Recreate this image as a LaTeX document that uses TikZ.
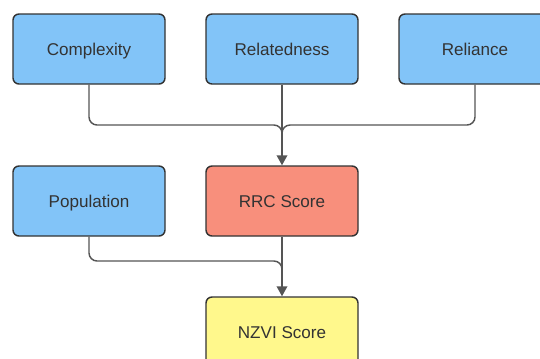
\documentclass[tikz,border=0pt]{standalone}
\usepackage{fontspec}
\setmainfont{Liberation Sans}
\usetikzlibrary{arrows.meta}
\definecolor{bluebox}{HTML}{82C4F8}
\definecolor{redbox}{HTML}{F88F7C}
\definecolor{yellowbox}{HTML}{FFF88C}
\definecolor{edge}{HTML}{333333}
\definecolor{wire}{HTML}{555555}
\definecolor{txt}{HTML}{333333}
\begin{document}
\begin{tikzpicture}[x=0.75pt,y=-0.75pt,
  box/.style={draw=edge,line width=1.1pt,rounded corners=4.5pt,minimum width=152*0.75pt,minimum height=70*0.75pt,inner sep=0pt,text height=9.1pt,text depth=0pt,text=txt,font=\fontsize{12.8pt}{14pt}\selectfont},
  wireline/.style={draw=wire,line width=1.1pt,rounded corners=6pt},
  arr/.style={wireline,-{Triangle[length=7.5pt,width=8pt]}}]
\useasboundingbox (0,0) rectangle (540,358);
\node[box,fill=bluebox] (cx) at (89,49) {Complexity};
\node[box,fill=bluebox] (rel) at (282,49) {Relatedness};
\node[box,fill=bluebox] (rl) at (475,49) {Reliance};
\node[box,fill=bluebox] (pop) at (89,201) {Population};
\node[box,fill=redbox] (rrc) at (282,201) {RRC Score};
\node[box,fill=yellowbox] (nz) at (282,332) {NZVI Score};
\coordinate (j1) at (282,125);
\coordinate (j2) at (282,261);
\draw[wireline] (cx.south) |- (j1) -- ++(0,6);
\draw[wireline] (rl.south) |- (j1) -- ++(0,6);
\draw[arr] (rel.south) -- (rrc.north);
\draw[wireline] (pop.south) |- (j2) -- ++(0,6);
\draw[arr] (rrc.south) -- (nz.north);
\end{tikzpicture}
\end{document}
